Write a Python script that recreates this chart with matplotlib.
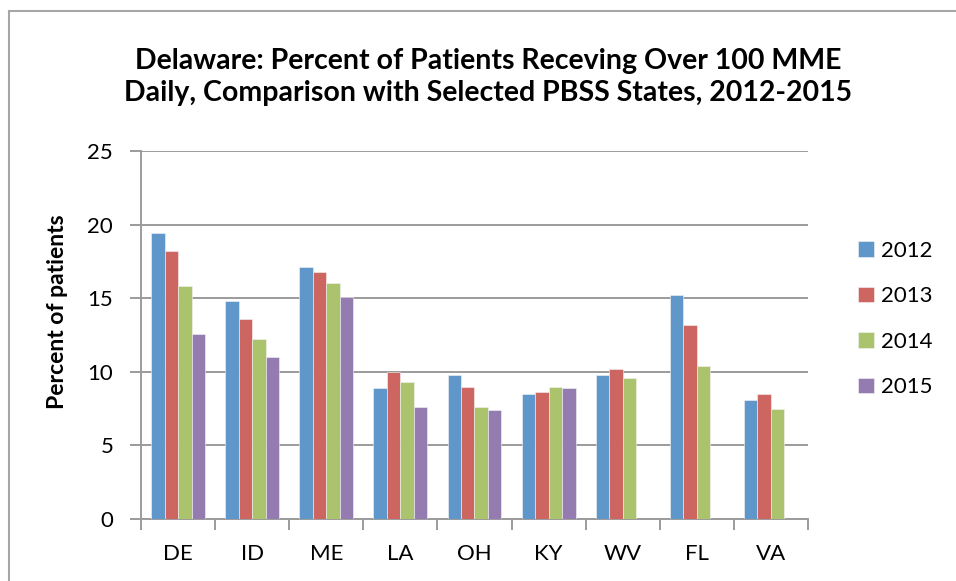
import matplotlib
matplotlib.use('Agg')
import matplotlib.pyplot as plt
import numpy as np
from matplotlib.lines import Line2D
from matplotlib.ticker import FixedLocator, NullFormatter

plt.rcParams['font.family'] = ['Lato', 'DejaVu Sans']

STATES = ['DE', 'ID', 'ME', 'LA', 'OH', 'KY', 'WV', 'FL', 'VA']
YEARS = ['2012', '2013', '2014', '2015']
V2012 = [19.4, 14.8, 17.1, 8.9, 9.8, 8.5, 9.8, 15.2, 8.1]
V2013 = [18.2, 13.6, 16.8, 10.0, 9.0, 8.6, 10.2, 13.2, 8.5]
V2014 = [15.8, 12.2, 16.0, 9.3, 7.6, 9.0, 9.6, 10.4, 7.5]
V2015 = [12.6, 11.0, 15.1, 7.6, 7.4, 8.9, np.nan, np.nan, np.nan]
COLORS = ['#6097CA', '#CD6660', '#AAC36C', '#947CB1']
YTICKS = [0, 5, 10, 15, 20, 25]

W, H = 956, 581
fig = plt.figure(figsize=(W / 100, H / 100), dpi=100)
ax = fig.add_axes([141 / W, 1 - 519 / H, (808 - 141) / W, (519 - 151) / H])

x = np.arange(len(STATES))
bw = 0.182
for k, (yr, vals, c) in enumerate(zip(YEARS, [V2012, V2013, V2014, V2015], COLORS)):
    ax.bar(x + (k - 1.5) * bw, vals, width=bw, color=c, label=yr,
           edgecolor='#f4f4f4', linewidth=0.4, zorder=3)

grid_c = '#9b9b9b'
ax.set_xlim(-0.5, len(STATES) - 0.5)
ax.set_ylim(0, 25)
ax.set_yticks(YTICKS)
ax.yaxis.grid(True, color=grid_c, linewidth=1.4, zorder=0)
for s in ['top', 'right']:
    ax.spines[s].set_visible(False)
for s in ['left', 'bottom']:
    ax.spines[s].set_color(grid_c)
    ax.spines[s].set_linewidth(1.4)
ax.set_xticks(x)
ax.set_xticklabels(STATES)
ax.xaxis.set_minor_locator(FixedLocator(np.arange(-0.5, len(STATES), 1.0)))
ax.xaxis.set_minor_formatter(NullFormatter())
ax.tick_params(axis='x', which='major', length=0, pad=18, labelsize=16)
ax.tick_params(axis='x', which='minor', length=8, width=1.4, color=grid_c)
ax.tick_params(axis='y', length=8, width=1.4, color=grid_c, pad=12, labelsize=16)

fig.text(58 / W, 1 - 312 / H, 'Percent of patients', rotation=90,
         ha='center', va='center', fontsize=16.5, fontweight='bold')
fig.text(488 / W, 1 - 77 / H,
         'Delaware: Percent of Patients Receving Over 100 MME\n'
         'Daily, Comparison with Selected PBSS States, 2012-2015',
         ha='center', va='center', fontsize=20.5, fontweight='bold',
         linespacing=1.25)

ax.legend(loc='center left', bbox_to_anchor=(858 / W, 1 - 319 / H),
          bbox_transform=fig.transFigure, frameon=False, fontsize=16,
          handlelength=0.7, handleheight=0.7, handletextpad=0.35,
          labelspacing=1.15, borderpad=0, borderaxespad=0)

# outer chart border (left and top only visible in the crop)
fig.add_artist(Line2D([9 / W, 9 / W], [0, 1 - 11 / H], transform=fig.transFigure,
                      color='#a6a6a6', linewidth=1.5))
fig.add_artist(Line2D([9 / W, 1], [1 - 11 / H, 1 - 11 / H], transform=fig.transFigure,
                      color='#a6a6a6', linewidth=1.5))

fig.savefig('out.png', dpi=100)
